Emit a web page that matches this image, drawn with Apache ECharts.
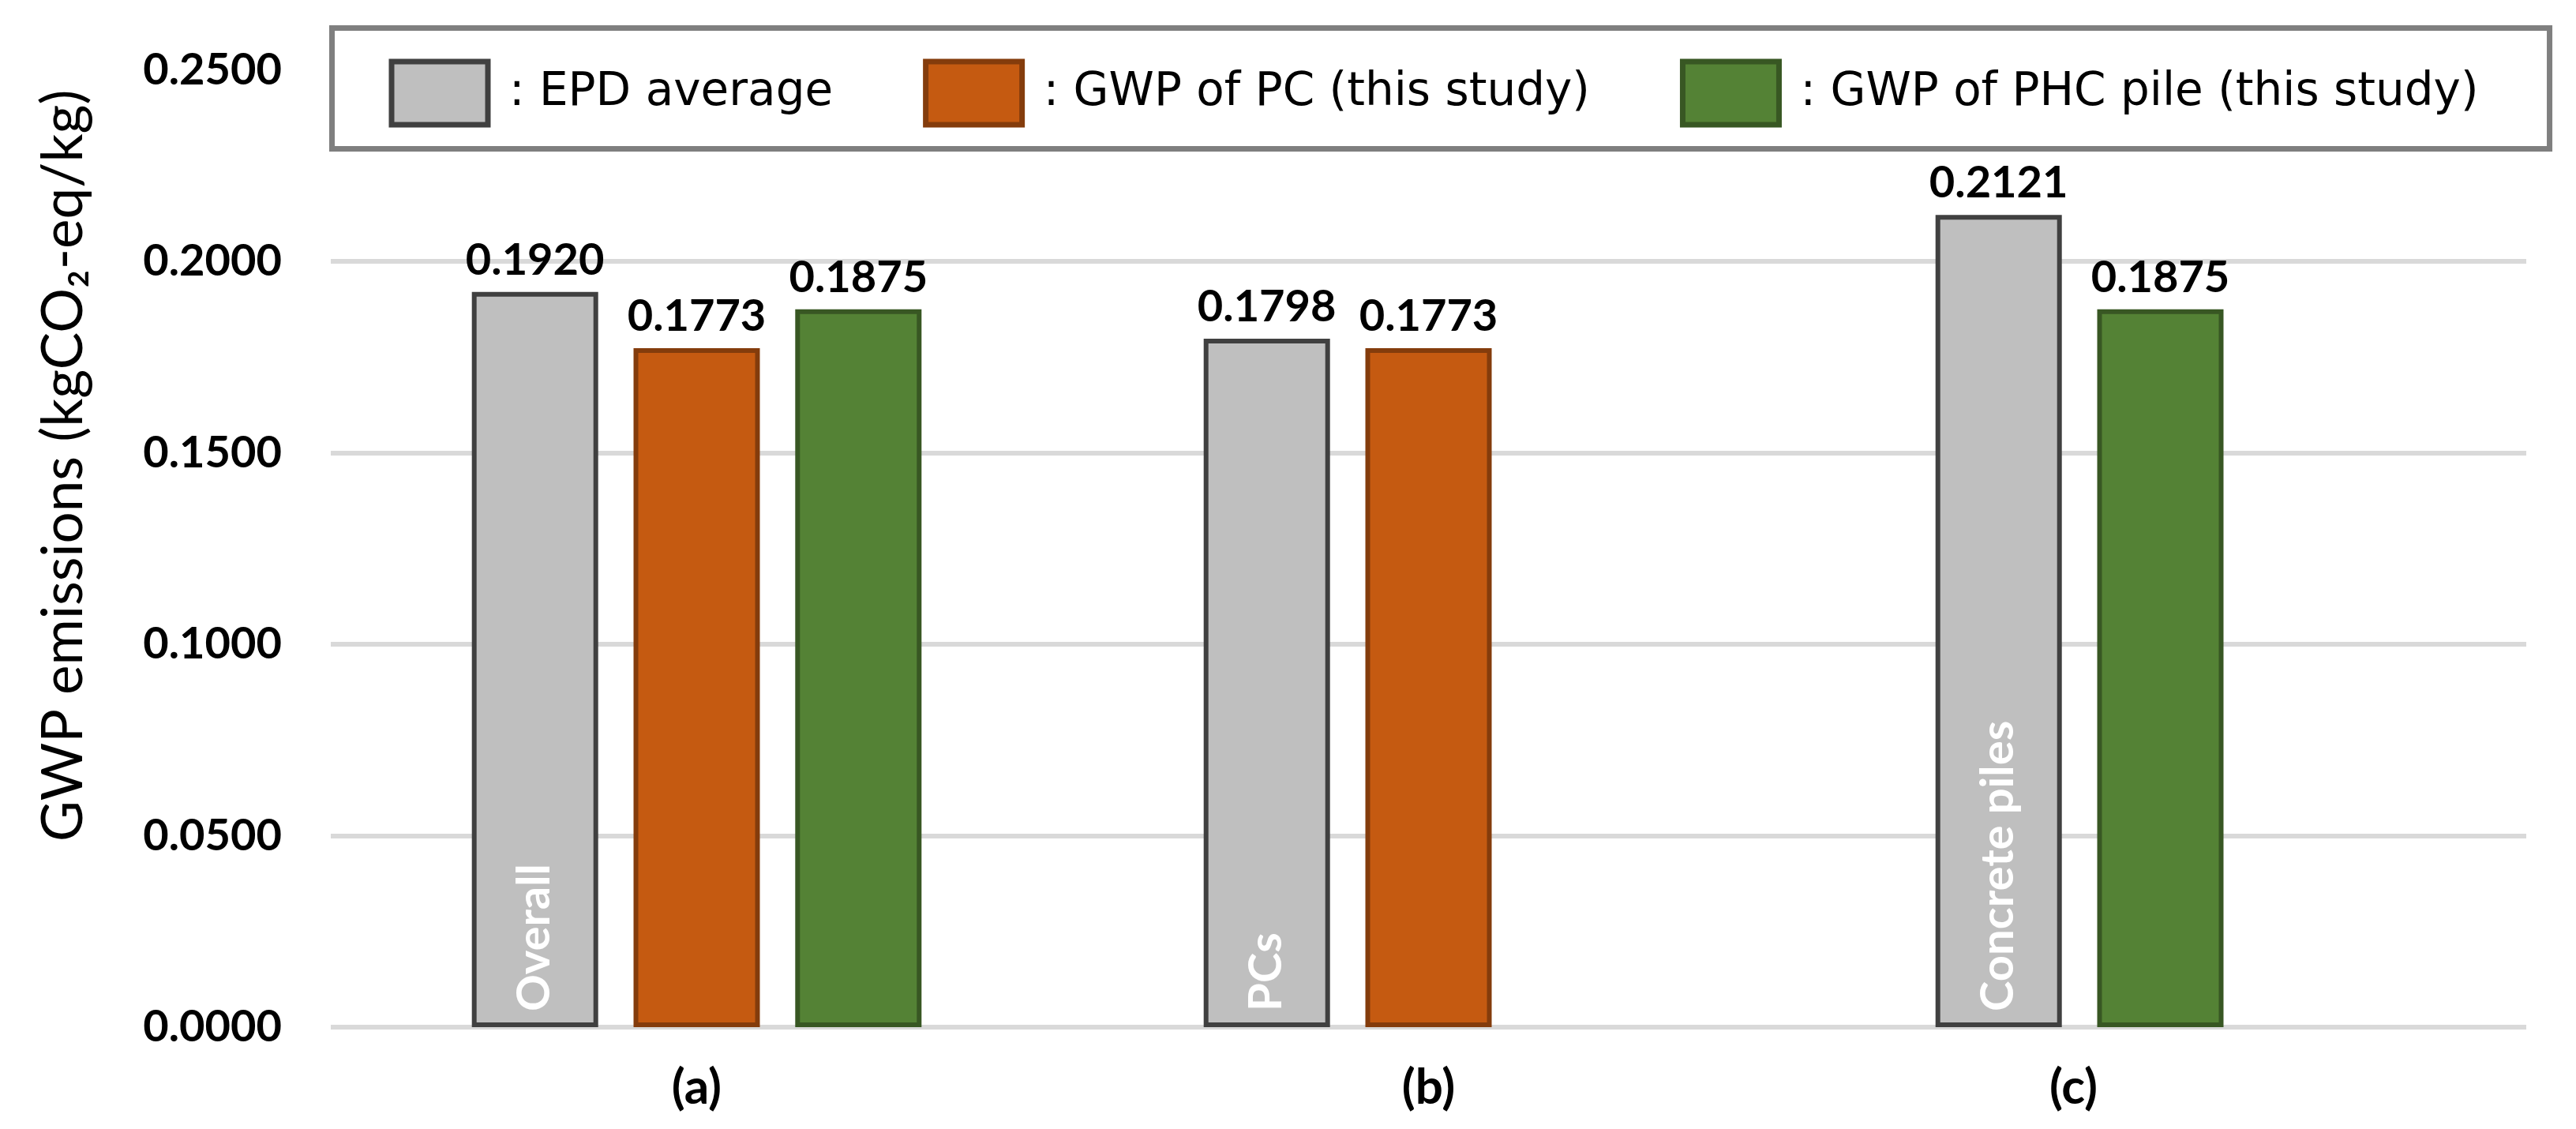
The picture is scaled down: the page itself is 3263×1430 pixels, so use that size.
<!DOCTYPE html>
<html>
<head>
<meta charset="utf-8">
<script src="https://cdn.jsdelivr.net/npm/echarts@6/dist/echarts.min.js"></script>
<style>
  html, body { margin: 0; padding: 0; background: #ffffff; }
  #chart { width: 3263px; height: 1430px; }
</style>
</head>
<body>
<div id="chart"></div>
<script>
// ---- data ----
const categories = ['(a)', '(b)', '(c)'];
const innerNames = ['Overall', 'PCs', 'Concrete piles'];
const seriesNames = ['EPD average', 'GWP of PC (this study)', 'GWP of PHC pile (this study)'];
const epdAverage = [0.1920, 0.1798, 0.2121];
const gwpPC = [0.1773, 0.1773, null];
const gwpPHCPaired = [null, null, 0.1875];   // (c): PHC pile bar sits next to the EPD bar
const gwpPHC = [0.1875, null, null];         // (a): PHC pile bar in third slot
const yMin = 0, yMax = 0.25, yInterval = 0.05;
const yAxisTitle = 'GWP emissions (kgCO\u2082-eq/kg)';

// ---- styles ----
const GRAY = '#BFBFBF', GRAY_B = '#404040';
const ORANGE = '#C55A11', ORANGE_B = '#843C0C';
const GREEN = '#548235', GREEN_B = '#385723';
const BAR_W = 160, BORDER_W = 6;
const valFont = { fontFamily: 'Lato', fontWeight: 'bold', fontSize: 56, color: '#000' };
const fmt = v => (v == null ? '' : Number(v).toFixed(4));

const chart = echarts.init(document.getElementById('chart'), null, { renderer: 'canvas' });

const valueLabel = Object.assign({ show: true, position: 'top', distance: 12,
  formatter: p => fmt(p.value) }, valFont);

const option = {
  backgroundColor: '#ffffff',
  animation: false,
  grid: { left: 419, right: 63, top: 88.5, bottom: 129, containLabel: false },
  legend: {
    left: 420.5, top: 35.5,
    orient: 'horizontal',
    icon: 'rect',
    itemWidth: 122, itemHeight: 80, itemGap: 114,
    padding: [39, 90, 27, 72],
    backgroundColor: '#ffffff',
    borderColor: '#7F7F7F', borderWidth: 7, borderRadius: 0,
    selectedMode: false,
    formatter: name => ': ' + name,
    textStyle: { fontFamily: 'DejaVu Sans', fontSize: 58, color: '#000', padding: [0, 0, 0, 22] },
    data: [
      { name: seriesNames[0], itemStyle: { color: GRAY, borderColor: GRAY_B, borderWidth: 7 } },
      { name: seriesNames[1], itemStyle: { color: ORANGE, borderColor: ORANGE_B, borderWidth: 7 } },
      { name: seriesNames[2], itemStyle: { color: GREEN, borderColor: GREEN_B, borderWidth: 7 } }
    ]
  },
  xAxis: {
    type: 'category',
    data: categories,
    axisLine: { show: false },
    axisTick: { show: false },
    axisLabel: {
      margin: 46,
      formatter: (v, i) => (i === 2 ? '{shift|' + v + '}' : '{n|' + v + '}'),
      rich: {
        n: { fontFamily: 'Lato', fontWeight: 'bold', fontSize: 62, color: '#000' },
        shift: { fontFamily: 'Lato', fontWeight: 'bold', fontSize: 62, color: '#000', padding: [0, 220, 0, 0] }
      }
    }
  },
  yAxis: {
    type: 'value',
    min: yMin, max: yMax, interval: yInterval,
    axisLine: { show: false },
    axisTick: { show: false },
    splitLine: { show: true, lineStyle: { color: '#D9D9D9', width: 6 } },
    axisLabel: {
      margin: 62,
      formatter: v => v.toFixed(4),
      fontFamily: 'Lato', fontWeight: 'bold', fontSize: 56, color: '#000'
    },
    name: yAxisTitle,
    nameLocation: 'middle',
    nameGap: 302,
    nameRotate: 90,
    nameTextStyle: { fontFamily: 'Lato', fontSize: 71, color: '#000', padding: [0, 0, 0, 210] }
  },
  series: [
    {
      name: seriesNames[0], type: 'bar', stack: 'slot1',
      barWidth: BAR_W, barGap: '28%',
      data: epdAverage,
      itemStyle: { color: GRAY, borderColor: GRAY_B, borderWidth: BORDER_W },
      label: {
        show: true, position: 'insideBottom', distance: 20,
        rotate: 90, align: 'left', verticalAlign: 'middle',
        formatter: p => innerNames[p.dataIndex],
        fontFamily: 'Lato', fontWeight: 'bold', fontSize: 58, color: '#ffffff'
      }
    },
    {
      name: 'EPD value labels', type: 'bar', stack: 'slot1',
      barWidth: BAR_W, barGap: '28%',
      data: epdAverage.map(() => 0),
      itemStyle: { color: 'rgba(0,0,0,0)', borderWidth: 0 },
      label: Object.assign({}, valueLabel, { formatter: p => fmt(epdAverage[p.dataIndex]) }),
      silent: true
    },
    {
      name: seriesNames[1], type: 'bar', stack: 'slot2',
      barWidth: BAR_W, barGap: '28%',
      data: gwpPC,
      itemStyle: { color: ORANGE, borderColor: ORANGE_B, borderWidth: BORDER_W },
      label: valueLabel
    },
    {
      name: seriesNames[2], type: 'bar', stack: 'slot2',
      barWidth: BAR_W, barGap: '28%',
      data: gwpPHCPaired,
      itemStyle: { color: GREEN, borderColor: GREEN_B, borderWidth: BORDER_W },
      label: valueLabel
    },
    {
      name: seriesNames[2], type: 'bar', stack: 'slot3',
      barWidth: BAR_W, barGap: '28%',
      data: gwpPHC,
      itemStyle: { color: GREEN, borderColor: GREEN_B, borderWidth: BORDER_W },
      label: valueLabel
    }
  ]
};

chart.setOption(option);
</script>
</body>
</html>
